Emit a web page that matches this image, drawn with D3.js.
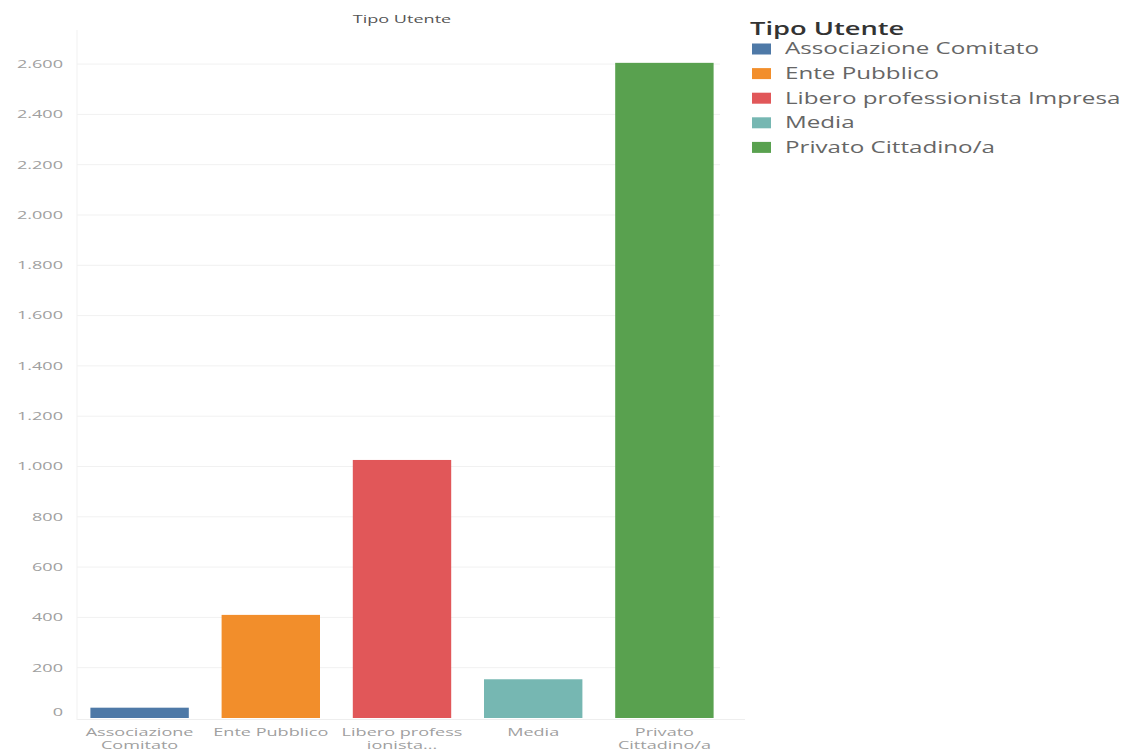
<!DOCTYPE html>
<html>
<head>
<meta charset="utf-8">
<script src="https://cdn.jsdelivr.net/npm/d3@7"></script>
<style>
  body { margin: 0; background: #fff; }
  svg { display: block; font-family: "Open Sans", "DejaVu Sans", sans-serif; }
</style>
</head>
<body>
<svg id="chart" width="1136" height="755"></svg>
<script>
// Conteggio utenti per tipologia
const categories = ["Associazione Comitato", "Ente Pubblico", "Libero professionista Impresa", "Media", "Privato Cittadino/a"];
const axisLabels = [["Associazione", "Comitato"], ["Ente Pubblico"], ["Libero profess", "ionista..."], ["Media"], ["Privato", "Cittadino/a"]];
const values = [41, 410, 1026, 154, 2605];
const colors = ["#4e79a7", "#f28e2b", "#e15759", "#76b7b2", "#59a14f"];
const yTicks = [0, 200, 400, 600, 800, 1000, 1200, 1400, 1600, 1800, 2000, 2200, 2400, 2600];
const chartTitle = "Tipo Utente";

const svg = d3.select("#chart");
const plot = { left: 74, right: 730, top: 40, bottom: 718 };
// il testo del grafico è reso con caratteri larghi
const axisStretch = 1.72;
const legendStretch = 1.56;

const x = d3.scaleBand().domain(categories).range([plot.left, plot.right]).paddingInner(0.25).paddingOuter(0.125);
const y = d3.scaleLinear().domain([0, 2700]).range([plot.bottom, plot.bottom - 2700 * 0.2515]);

const it = d3.formatLocale({ decimal: ",", thousands: ".", grouping: [3], currency: ["€", ""] });
const fmt = it.format(",d");

// griglia orizzontale
svg.append("g")
  .selectAll("line")
  .data(yTicks.filter(d => d > 0))
  .join("line")
  .attr("x1", plot.left + 3).attr("x2", plot.right - 10)
  .attr("y1", d => y(d)).attr("y2", d => y(d))
  .attr("stroke", "#f1f1f1").attr("stroke-width", 1);

// linea di base e asse verticale
svg.append("line")
  .attr("x1", plot.left + 3).attr("x2", plot.right + 15)
  .attr("y1", plot.bottom + 1.5).attr("y2", plot.bottom + 1.5)
  .attr("stroke", "#eeeeee");
svg.append("line")
  .attr("x1", plot.left + 3).attr("x2", plot.left + 3)
  .attr("y1", plot.top - 10).attr("y2", plot.bottom + 2)
  .attr("stroke", "#f1f1f1");

// asse y
const yAxis = d3.axisLeft(y).tickValues(yTicks).tickFormat(fmt).tickSize(0).tickPadding(0);
const gy = svg.append("g").attr("transform", `translate(${plot.left - 11},0)`).call(yAxis);
gy.select(".domain").remove();
gy.selectAll("text")
  .attr("fill", "#a0a0a0").attr("font-size", 10.5)
  .attr("font-family", "'Open Sans', sans-serif")
  .attr("transform", `scale(${axisStretch},1)`)
  .attr("dy", d => d === 0 ? "-0.25em" : "0.32em");

// barre
svg.append("g")
  .selectAll("rect")
  .data(categories)
  .join("rect")
  .attr("x", d => x(d))
  .attr("width", x.bandwidth())
  .attr("y", (d, i) => y(values[i]))
  .attr("height", (d, i) => y(0) - y(values[i]))
  .attr("fill", (d, i) => colors[i]);

// etichette asse x
const xLab = svg.append("g");
categories.forEach((c, i) => {
  const t = xLab.append("text")
    .attr("transform", `translate(${x(c) + x.bandwidth() / 2},736) scale(${axisStretch},1)`)
    .attr("text-anchor", "middle")
    .attr("fill", "#a0a0a0")
    .attr("font-size", 10.5);
  axisLabels[i].forEach((line, k) => {
    t.append("tspan").attr("x", 0).attr("dy", k === 0 ? 0 : 13.5).text(line);
  });
});

// titolo
svg.append("text")
  .attr("transform", `translate(${(plot.left + plot.right) / 2},23) scale(${axisStretch},1)`)
  .attr("text-anchor", "middle")
  .attr("fill", "#555")
  .attr("font-size", 10.5)
  .text(chartTitle);

// legenda
const legend = svg.append("g").attr("transform", "translate(750,0)");
legend.append("text")
  .attr("transform", `translate(0,35) scale(${legendStretch},1)`)
  .attr("fill", "#333")
  .attr("font-size", 17.5)
  .attr("font-weight", 600)
  .text(chartTitle);
const rows = legend.selectAll("g.row")
  .data(categories)
  .join("g")
  .attr("class", "row")
  .attr("transform", (d, i) => `translate(0,${49 + i * 24.6})`);
rows.append("rect")
  .attr("x", 2).attr("y", -5.5)
  .attr("width", 19).attr("height", 11)
  .attr("fill", (d, i) => colors[i]);
rows.append("text")
  .attr("transform", `translate(35,0) scale(${legendStretch},1)`)
  .attr("dy", "0.35em")
  .attr("fill", "#666")
  .attr("font-size", 15.5)
  .text(d => d);
</script>
</body>
</html>
